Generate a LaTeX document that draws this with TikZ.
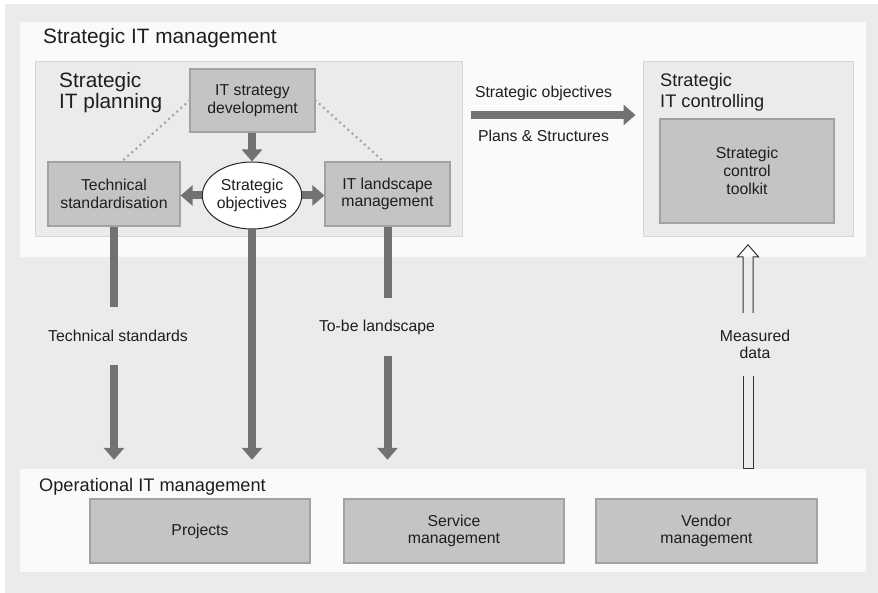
\documentclass[tikz,border=0pt]{standalone}
\usepackage{fontspec}
\setmainfont{Liberation Sans}
\usetikzlibrary{arrows.meta, shapes.geometric}

\definecolor{outergray}{HTML}{EBEBEB}
\definecolor{panelwhite}{HTML}{FAFAFA}
\definecolor{plangray}{HTML}{EBEBEB}
\definecolor{planline}{HTML}{D6D6D6}
\definecolor{boxfill}{HTML}{C4C4C4}
\definecolor{boxline}{HTML}{A2A2A2}
\definecolor{arrowgray}{HTML}{727272}
\definecolor{dotgray}{HTML}{A8A8A8}
\definecolor{inkgray}{HTML}{1E1E1E}

\newcommand{\boxfont}{\fontsize{15.8}{17.7}\selectfont}
\newcommand{\bigheadfont}{\fontsize{20.8}{21}\selectfont}
\newcommand{\midheadfont}{\fontsize{18.2}{21}\selectfont}

\begin{document}
\begin{tikzpicture}[x=1pt, y=-1pt, text=inkgray,
	box/.style={draw=boxline, fill=boxfill, line width=1.2pt, align=center, font=\boxfont, inner sep=0pt},
	panel/.style={fill=panelwhite, inner sep=0pt},
	area/.style={draw=planline, fill=plangray, line width=1pt, inner sep=0pt},
	flow/.style={draw=arrowgray, line width=8pt, -{Triangle[width=20pt,length=12pt]}},
	bar/.style={draw=arrowgray, line width=8pt},
	hint/.style={draw=dotgray, line width=3pt, line cap=round, dash pattern=on 0pt off 5.5pt},
	gap/.style={font=\boxfont, align=center, minimum height=58pt, inner sep=0pt},
	data/.style={draw=black!80, line width=1pt, line join=miter}]
	\useasboundingbox (0,0) rectangle (878,593);
	\fill[outergray] (5,4) rectangle (878,593);

	% strategic level
	\node[panel, minimum width=846pt, minimum height=235pt] (sim) at (443,139.5) {};
	\node[anchor=base west, inner sep=0pt, font=\bigheadfont] (simt) at (43,44) {Strategic IT management};
	\node[area, minimum width=427pt, minimum height=175pt] (plan) at (248.5,149.5) {};
	\node[anchor=north west, inner sep=0pt, align=left, font=\bigheadfont] (plant) at (59,72) {Strategic\\IT planning};
	\node[area, minimum width=210pt, minimum height=175pt] (ctl) at (748,149.5) {};
	\node[anchor=north west, inner sep=0pt, align=left, font=\midheadfont] (ctlt) at (660,73) {Strategic\\IT controlling};

	\node[box, minimum width=125pt, minimum height=63pt] (dev) at (252.5,100.5) {IT strategy\\development};
	\node[box, minimum width=132pt, minimum height=64pt] (tsd) at (114,194) {Technical\\standardisation};
	\node[box, minimum width=125pt, minimum height=64pt] (lsm) at (387.5,194) {IT landscape\\management};
	\node[ellipse, draw=black!85, fill=white, line width=1pt, minimum width=90pt, minimum height=67pt,
		inner sep=0pt, align=center, font=\boxfont] (obj) at (252,195.5) {Strategic\\objectives};
	\node[box, minimum width=174pt, minimum height=104pt] (kit) at (747,171) {Strategic\\control\\toolkit};

	% operational level
	\node[panel, minimum width=846pt, minimum height=103pt] (ops) at (443,520.5) {};
	\node[anchor=base west, inner sep=0pt, font=\midheadfont] (opst) at (39,491) {Operational IT management};
	\node[box, minimum width=220pt, minimum height=64pt] (proj) at (200,531) {Projects};
	\node[box, minimum width=220pt, minimum height=64pt] (svc) at (454,531) {Service\\management};
	\node[box, minimum width=221pt, minimum height=64pt] (ven) at (706.5,531) {Vendor\\management};

	% labels in the gaps
	\node[gap] (ts) at (118,336) {Technical standards};
	\node[gap] (tobe) at (377,327) {To-be landscape};
	\node[gap, minimum height=63pt] (md) at (755,344.5) {Measured\\data};

	% connectors
	\draw[hint] (dev.west) -- ([xshift=8pt]tsd.north);
	\draw[hint] (dev.east) -- ([xshift=-4pt]lsm.north);
	\draw[flow] (obj.north |- dev.south) -- (obj.north);
	\draw[flow] (obj.west) -- (obj.west -| tsd.east);
	\draw[flow] (obj.east) -- (obj.east -| lsm.west);
	\draw[flow, shorten <=8pt, shorten >=7pt] ([yshift=34.5pt]plan.east) -- ([yshift=34.5pt]ctl.west)
		node[pos=0.45, above=10pt, inner sep=0pt, font=\boxfont] {Strategic objectives}
		node[pos=0.45, below=11pt, inner sep=0pt, font=\boxfont] {Plans \& Structures};

	\draw[bar] (tsd.south) -- (tsd.south |- ts.north);
	\draw[flow, shorten >=9pt] (tsd.south |- ts.south) -- (tsd.south |- ops.north);
	\draw[flow, shorten >=9pt] (obj.south) -- (obj.south |- ops.north);
	\draw[bar] (lsm.south) -- (lsm.south |- tobe.north);
	\draw[flow, shorten >=9pt] (lsm.south |- tobe.south) -- (lsm.south |- ops.north);

	% hollow arrow for the measured data
	\draw[data] ([xshift=-5pt]md.south -| ctl.south) -- ([xshift=-5pt]ops.north -| ctl.south)
		-- ([xshift=5pt]ops.north -| ctl.south) -- ([xshift=5pt]md.south -| ctl.south);
	\draw[data] ([xshift=-5pt]md.north -| ctl.south) -- ++(0,-56) -- ++(-5.5,0) -- ++(10.5,-12)
		-- ++(10.5,12) -- ++(-5.5,0) -- ++(0,56);
\end{tikzpicture}
\end{document}
